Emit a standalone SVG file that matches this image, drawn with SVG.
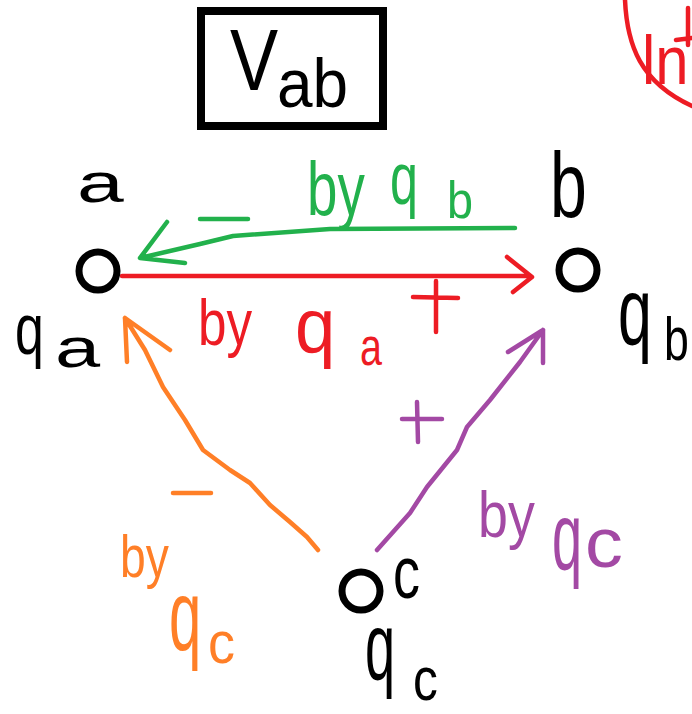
<svg xmlns="http://www.w3.org/2000/svg" width="692" height="714" viewBox="0 0 692 714">
<style>
text{font-family:"Liberation Sans","DejaVu Sans",sans-serif;}
.k{fill:#000}
.r{fill:#ED1C24}
.g{fill:#22B14C}
.o{fill:#FF7F27}
.p{fill:#A349A4}
.node{fill:none;stroke:#000;stroke-width:7}
.ln{fill:none;stroke-linecap:round;stroke-linejoin:round;stroke-width:4.5}
</style>
<rect width="692" height="714" fill="#fff"/>

<g id="title">
<rect x="201" y="11" width="182" height="115" fill="none" stroke="#000" stroke-width="8"/>
<text class="k" font-size="88" transform="translate(230,90) scale(0.82,1)">V</text>
<text class="k" font-size="68" transform="translate(277,107) scale(0.94,1)">ab</text>
</g>

<g id="scribble">
<path class="ln" stroke="#ED1C24" stroke-width="5" d="M625,0 C627,45 640,82 692,106"/>
<text class="r" font-size="68" transform="translate(642,84) scale(0.88,1)">ln</text>
<path class="ln" stroke="#ED1C24" stroke-width="5" d="M688,8 L688,45 M676,40 L692,38"/>
</g>

<g id="connectors">
<path class="ln" stroke="#ED1C24" d="M122,276 L530,276 M507,257 L532,277 L513,292"/>
<path class="ln" stroke="#22B14C" stroke-width="5" d="M515,228 L330,229 L233,236 L200,244 L140,258 M167,222 L140,258 L185,263"/>
<path class="ln" stroke="#FF7F27" stroke-width="5" d="M318,550 L307,537 L290,522 L270,505 L250,483 L230,470 L203,450 L185,420 L163,387 L145,350 L125,318 M125,318 L127,362 M125,318 L170,350"/>
<path class="ln" stroke="#A349A4" stroke-width="5" d="M377,550 L410,513 L427,487 L457,450 L467,427 L490,400 L520,362 L543,330 M543,330 L543,363 M543,330 L508,352"/>
</g>

<g id="signs">
<path class="ln" stroke="#22B14C" stroke-width="5" d="M200,219 L248,219"/>
<path class="ln" stroke="#ED1C24" stroke-width="5" d="M413,297 L458,298 M436,281 L436,332"/>
<path class="ln" stroke="#FF7F27" stroke-width="5" d="M173,493 L211,493"/>
<path class="ln" stroke="#A349A4" stroke-width="5" d="M402,419 L442,419 M417,402 L418,442"/>
</g>

<g id="node-a">
<circle class="node" cx="98" cy="271" r="19"/>
<text class="k" font-size="56" transform="translate(77,202) scale(1.5,1)">a</text>
<text class="k" font-size="72" transform="translate(15,354) scale(0.72,1)">q</text>
<text class="k" font-size="56" transform="translate(55,367) scale(1.45,1)">a</text>
</g>

<g id="node-b">
<circle class="node" cx="578" cy="270" r="19"/>
<text class="k" font-size="92" transform="translate(550,217) scale(0.72,1)">b</text>
<text class="k" font-size="95" transform="translate(618,344) scale(0.64,1)">q</text>
<text class="k" font-size="62" transform="translate(664,360) scale(0.72,1)">b</text>
</g>

<g id="node-c">
<circle class="node" cx="361" cy="591" r="19"/>
<text class="k" font-size="75" transform="translate(393,598) scale(0.72,1)">c</text>
<text class="k" font-size="95" transform="translate(365,679) scale(0.57,1)">q</text>
<text class="k" font-size="62" transform="translate(413,700) scale(0.8,1)">c</text>
</g>

<g id="labels">
<text class="r" font-size="64" transform="translate(198,345) scale(0.8,1)">by</text>
<text class="r" font-size="78" transform="translate(295,353) scale(0.93,1)">q</text>
<text class="r" font-size="52" transform="translate(360,365) scale(0.76,1)">a</text>

<text class="g" font-size="76" transform="translate(307,215) scale(0.72,1)">by</text>
<text class="g" font-size="75" transform="translate(390,204) scale(0.67,1)">q</text>
<text class="g" font-size="52" transform="translate(447,218) scale(0.9,1)">b</text>

<text class="o" font-size="60" transform="translate(120,577) scale(0.77,1)">by</text>
<text class="o" font-size="100" transform="translate(169,650) scale(0.58,1)">q</text>
<text class="o" font-size="60" transform="translate(208,663) scale(0.9,1)">c</text>

<text class="p" font-size="64" transform="translate(478,537) scale(0.84,1)">by</text>
<text class="p" font-size="95" transform="translate(552,569) scale(0.57,1)">q</text>
<text class="p" font-size="70" transform="translate(585,567) scale(1.08,1)">c</text>
</g>
</svg>
